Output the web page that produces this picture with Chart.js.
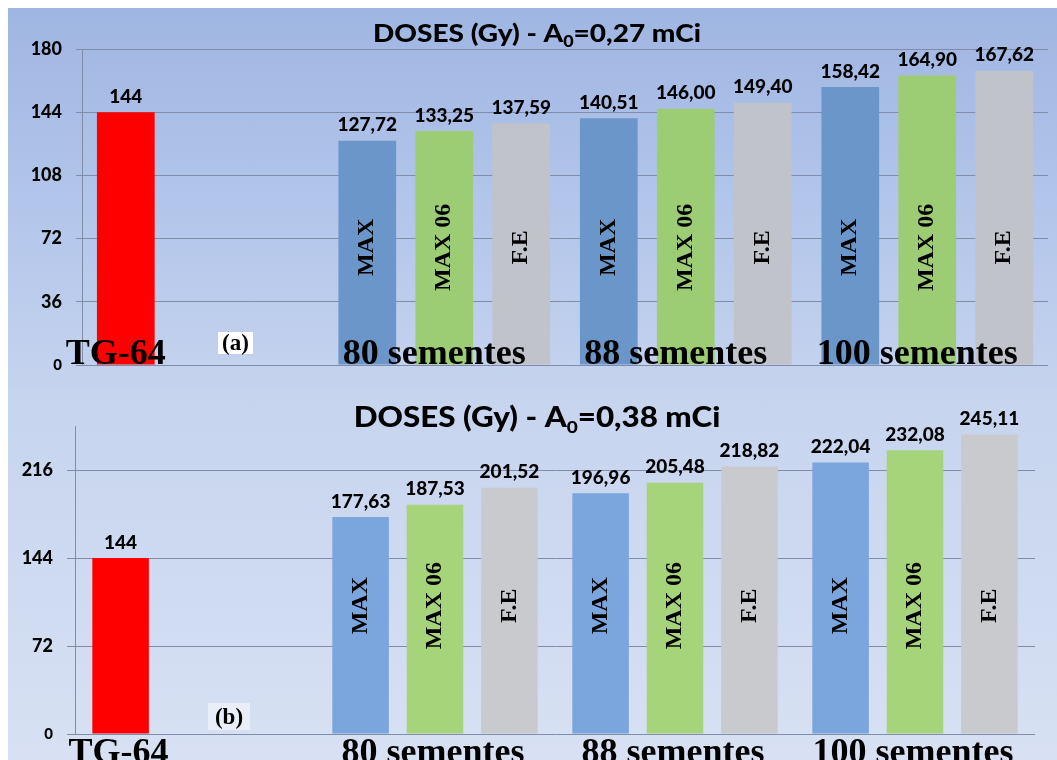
<!DOCTYPE html>
<html>
<head>
<meta charset="utf-8">
<script src="https://cdn.jsdelivr.net/npm/chart.js@4.4.1/dist/chart.umd.min.js"></script>
<style>
  html, body { margin: 0; padding: 0; background: #fff; }
  body { width: 1057px; height: 760px; position: relative; overflow: hidden; }
  .panel { position: absolute; left: 8px; width: 1049px; }
  #panelA { top: 8px; height: 382px; background: linear-gradient(to bottom, #9fb6e2 0%, #b2c5ea 50%, #c5d3ee 100%); }
  #panelB { top: 390px; height: 370px; background: linear-gradient(to bottom, #c6d4ee 0%, #cfdbf1 55%, #d7e1f3 100%); }
  .box { position: absolute; left: 0; width: 1057px; }
  #boxA { top: 0; height: 390px; }
  #boxB { top: 390px; height: 370px; }
  .tag { position: absolute; font: bold 23px "Liberation Serif", serif; text-align: center; color: #000; }
  #tagA { left: 218px; top: 332px; width: 35px; height: 22px; line-height: 21px; background: #fff; }
  #tagB { left: 208px; top: 703px; width: 42px; height: 27px; line-height: 27px; background: rgba(236, 241, 249, 0.85); }
</style>
</head>
<body>
<div class="panel" id="panelA"></div>
<div class="panel" id="panelB"></div>
<div class="box" id="boxA"><canvas id="chartA" width="1057" height="390"></canvas></div>
<div class="box" id="boxB"><canvas id="chartB" width="1057" height="370"></canvas></div>
<div class="tag" id="tagA">(a)</div>
<div class="tag" id="tagB">(b)</div>
<script>
const categories = ['TG-64', '80 sementes', '88 sementes', '100 sementes'];
const seriesNames = ['MAX', 'MAX 06', 'F.E'];

// reference dose, same in both panels
const tg64 = [144, null, null, null];

// A0 = 0,27 mCi
const maxA = [null, 127.72, 140.51, 158.42];
const max06A = [null, 133.25, 146.00, 164.90];
const feA = [null, 137.59, 149.40, 167.62];
const ticksA = [0, 36, 72, 108, 144, 180];

// A0 = 0,38 mCi
const maxB = [null, 177.63, 196.96, 222.04];
const max06B = [null, 187.53, 205.48, 232.08];
const feB = [null, 201.52, 218.82, 245.11];
const ticksB = [0, 72, 144, 216];

const titleA = ['DOSES (Gy) - A', '0', '=0,27 mCi'];
const titleB = ['DOSES (Gy) - A', '0', '=0,38 mCi'];

const gridColor = '#7f8da8';

// value labels, rotated series names, group names and title
const barText = {
  id: 'barText',
  afterDatasetsDraw(chart, args, opts) {
    const ctx = chart.ctx;
    const yScale = chart.scales.y;
    const area = chart.chartArea;
    const groups = chart.data.labels.map(() => []);
    ctx.save();
    ctx.fillStyle = '#000';
    chart.data.datasets.forEach((ds, i) => {
      const meta = chart.getDatasetMeta(i);
      meta.data.forEach((bar, j) => {
        const v = ds.data[j];
        if (v == null) return;
        groups[j].push(bar.x);
        ctx.font = '900 19px Lato';
        ctx.textAlign = 'center';
        ctx.textBaseline = 'bottom';
        ctx.fillText(v.toFixed(ds.decimals).replace('.', ','), bar.x, bar.y - 6);
        if (ds.inside) {
          ctx.save();
          ctx.translate(bar.x, yScale.getPixelForValue(opts.insideAt));
          ctx.rotate(-Math.PI / 2);
          ctx.font = 'bold 24px "Liberation Serif"';
          ctx.textBaseline = 'middle';
          ctx.fillText(ds.label, 0, 0);
          ctx.restore();
        }
      });
    });

    ctx.font = 'bold 36px "Liberation Serif"';
    ctx.textAlign = 'center';
    ctx.textBaseline = 'alphabetic';
    groups.forEach((xs, j) => {
      if (!xs.length) return;
      const cx = xs.reduce((a, b) => a + b, 0) / xs.length + opts.groupShift;
      ctx.fillText(chart.data.labels[j], cx, area.bottom + opts.groupDy);
    });

    // title with subscript, slightly widened
    const [t1, sub, t2] = opts.title;
    const big = '900 ' + opts.titleSize + 'px Lato';
    const small = '900 ' + Math.round(opts.titleSize * 0.62) + 'px Lato';
    ctx.font = big;
    const w1 = ctx.measureText(t1).width;
    const w3 = ctx.measureText(t2).width;
    ctx.font = small;
    const w2 = ctx.measureText(sub).width;
    const k = opts.titleStretch;
    ctx.translate(opts.titleX - k * (w1 + w2 + w3) / 2, opts.titleY);
    ctx.scale(k, 1);
    ctx.textAlign = 'left';
    ctx.font = big;
    ctx.fillText(t1, 0, 0);
    ctx.font = small;
    ctx.fillText(sub, w1, opts.titleSize * 0.2);
    ctx.font = big;
    ctx.fillText(t2, w1 + w2, 0);
    ctx.restore();
  }
};

function makeChart(id, series, colors, ticks, cfg) {
  const datasets = [{
    label: 'TG-64', data: tg64, stack: 's1', decimals: 0,
    backgroundColor: '#ff0000'
  }];
  series.forEach((data, i) => {
    datasets.push({
      label: seriesNames[i], data: data, stack: 's' + (i + 1), decimals: 2, inside: true,
      backgroundColor: colors[i]
    });
  });
  datasets.forEach(ds => {
    ds.categoryPercentage = cfg.catPct;
    ds.barPercentage = cfg.barPct;
  });

  return new Chart(document.getElementById(id), {
    type: 'bar',
    data: { labels: categories, datasets: datasets },
    options: {
      responsive: false,
      animation: false,
      layout: { padding: cfg.padding },
      scales: {
        x: { display: false },
        y: {
          min: 0,
          max: cfg.max,
          afterBuildTicks: scale => { scale.ticks = ticks.map(v => ({ value: v })); },
          afterFit: scale => { scale.width = cfg.axisWidth; },
          grid: { color: gridColor, lineWidth: 1, tickLength: cfg.tickLength, drawTicks: true },
          border: { display: true, color: gridColor },
          ticks: {
            color: '#000',
            padding: cfg.tickPad,
            font: c => ({ family: 'Lato', weight: '900', size: c.tick && c.tick.value === 0 ? 15 : 18 })
          }
        }
      },
      plugins: {
        legend: { display: false },
        tooltip: { enabled: false },
        barText: {
          insideAt: cfg.insideAt,
          groupShift: cfg.groupShift,
          groupDy: cfg.groupDy,
          title: cfg.title,
          titleSize: cfg.titleSize,
          titleStretch: cfg.titleStretch,
          titleX: 537,
          titleY: cfg.titleY
        }
      }
    },
    plugins: [barText]
  });
}

makeChart('chartA', [maxA, max06A, feA], ['#6b96c9', '#9ccc74', '#c0c3ca'], ticksA, {
  max: 180, padding: { left: 0, top: 49, right: 9, bottom: 25 }, axisWidth: 82,
  tickLength: 6, tickPad: 14, catPct: 0.956, barPct: 0.75,
  insideAt: 67, groupShift: -10, groupDy: -1,
  title: titleA, titleSize: 25, titleStretch: 1.12, titleY: 42
});

makeChart('chartB', [maxB, max06B, feB], ['#7aa6dd', '#a6d47a', '#c8cace'], ticksB, {
  max: 252, padding: { left: 0, top: 36, right: 22, bottom: 26 }, axisWidth: 75,
  tickLength: 8, tickPad: 14, catPct: 0.93, barPct: 0.76,
  insideAt: 105, groupShift: -2, groupDy: 29,
  title: titleB, titleSize: 28, titleStretch: 1.12, titleY: 37
});
</script>
</body>
</html>
